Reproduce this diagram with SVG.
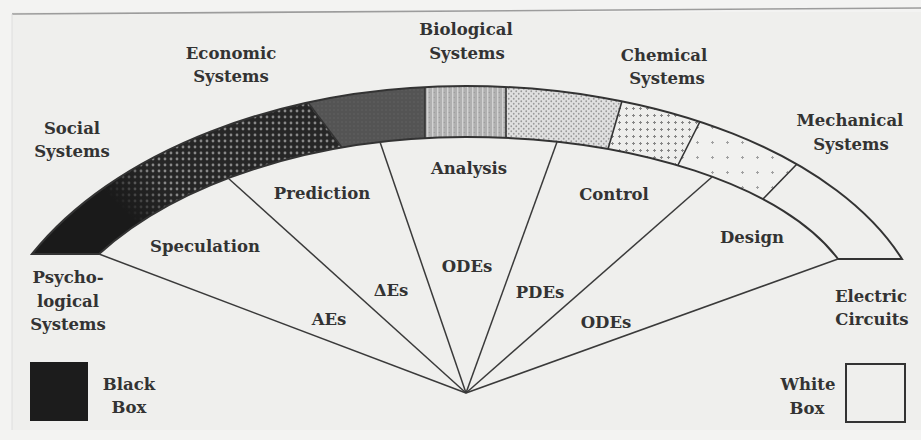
<svg xmlns="http://www.w3.org/2000/svg" width="921" height="440" viewBox="0 0 921 440">
  <defs>
    <style>
      text { font-family: "DejaVu Serif", "Liberation Serif", serif; font-size: 16.5px; font-weight: bold; fill: #333; text-anchor: middle; }
      .edge { stroke: #3a3a3a; stroke-width: 1.5; fill: none; }
      .div { stroke: #333; stroke-width: 1.6; }
      .outline { stroke: #333; stroke-width: 2; fill: none; }
    </style>
    <clipPath id="bandClip">
      <path d="M32,254 A486,305 0 0 1 466,86 A463,260 0 0 1 902,259 L838,259 A393,180 0 0 0 466,137 A436,254 0 0 0 99,254 Z"/>
    </clipPath>
    <pattern id="pDarkDots" width="6" height="6" patternUnits="userSpaceOnUse">
      <rect width="6" height="6" fill="#262626"/>
      <circle cx="3" cy="3" r="1.4" fill="#888"/>
    </pattern>
    <pattern id="pGray" width="4" height="4" patternUnits="userSpaceOnUse">
      <rect width="4" height="4" fill="#545454"/>
      <circle cx="2" cy="2" r="0.8" fill="#626262"/>
    </pattern>
    <pattern id="pVLines" width="5" height="5" patternUnits="userSpaceOnUse">
      <rect width="5" height="5" fill="#b0b0b0"/>
      <rect x="2" width="1.4" height="5" fill="#d2d2d2"/>
      <circle cx="4.2" cy="2.5" r="0.6" fill="#969696"/>
    </pattern>
    <pattern id="pFine" width="5" height="5" patternUnits="userSpaceOnUse">
      <rect width="5" height="5" fill="#e0e0e0"/>
      <circle cx="1.25" cy="1.25" r="0.9" fill="#9a9a9a"/>
      <circle cx="3.75" cy="3.75" r="0.9" fill="#9a9a9a"/>
    </pattern>
    <pattern id="pPlus" width="7" height="7" patternUnits="userSpaceOnUse">
      <rect width="7" height="7" fill="#eeeeec"/>
      <path d="M3.5,2 V5 M2,3.5 H5" stroke="#858585" stroke-width="1"/>
    </pattern>
    <pattern id="pSparse" width="15" height="15" patternUnits="userSpaceOnUse">
      <rect width="15" height="15" fill="#f1f1ef"/>
      <path d="M7.5,6 V9 M6,7.5 H9" stroke="#a0a0a0" stroke-width="1"/>
    </pattern>
    <linearGradient id="gBlack" gradientUnits="userSpaceOnUse" x1="128" y1="214" x2="162" y2="180">
      <stop offset="0" stop-color="#1a1a1a" stop-opacity="1"/>
      <stop offset="1" stop-color="#1a1a1a" stop-opacity="0"/>
    </linearGradient>
  </defs>

  <!-- background / scan frame -->
  <rect width="921" height="440" fill="#f3f3f2"/>
  <rect x="12" y="12" width="909" height="418" fill="#efefed"/>
  <line x1="12" y1="14" x2="921" y2="8" stroke="#9c9c9c" stroke-width="1.6"/>
  <line x1="12" y1="14" x2="12" y2="430" stroke="#dedede" stroke-width="1"/>

  <!-- band of system types -->
  <g id="band">
    <g clip-path="url(#bandClip)">
      <polygon points="0,0 230,0 384,203 384,440 0,440" fill="url(#pDarkDots)"/>
      <rect x="0" y="0" width="300" height="440" fill="url(#gBlack)"/>
      <polygon points="230,0 425,0 425,440 384,440 384,203" fill="url(#pGray)"/>
      <rect x="425" y="0" width="81" height="440" fill="url(#pVLines)"/>
      <polygon points="506,0 651,0 608,149 600,440 506,440" fill="url(#pFine)"/>
      <polygon points="651,0 761,0 700,121.5 678,165 670,440 600,440 608,149" fill="url(#pPlus)"/>
      <polygon points="761,0 956,0 797,164 763,199 740,440 670,440 678,165 700,121.5" fill="url(#pSparse)"/>
    </g>
    <line class="div" x1="308" y1="102.6" x2="342" y2="147.5"/>
    <line class="div" x1="425" y1="87" x2="425" y2="138"/>
    <line class="div" x1="506" y1="87" x2="506" y2="138"/>
    <line class="div" x1="622" y1="101" x2="608" y2="149"/>
    <line class="div" x1="700" y1="121.5" x2="678" y2="165"/>
    <line class="div" x1="797" y1="164" x2="763" y2="199"/>
    <path class="outline" d="M32,254 A486,305 0 0 1 466,86 A463,260 0 0 1 902,259 L838,259 A393,180 0 0 0 466,137 A436,254 0 0 0 99,254 Z"/>
  </g>

  <!-- connectors: fan from the apex -->
  <g id="connectors">
    <line class="edge" x1="466" y1="393" x2="99" y2="254"/>
    <line class="edge" x1="466" y1="393" x2="228" y2="178"/>
    <line class="edge" x1="466" y1="393" x2="380" y2="142"/>
    <line class="edge" x1="466" y1="393" x2="557" y2="142"/>
    <line class="edge" x1="466" y1="393" x2="712" y2="177"/>
    <line class="edge" x1="466" y1="393" x2="838" y2="259"/>
    <text x="329" y="325">AEs</text>
    <text x="391" y="296">ΔEs</text>
    <text x="467" y="272">ODEs</text>
    <text x="540" y="298">PDEs</text>
    <text x="606" y="328">ODEs</text>
  </g>

  <!-- sector nodes -->
  <g id="speculation"><text x="205" y="252">Speculation</text></g>
  <g id="prediction"><text x="322" y="199">Prediction</text></g>
  <g id="analysis"><text x="469" y="174">Analysis</text></g>
  <g id="control"><text x="614" y="200">Control</text></g>
  <g id="design"><text x="752" y="243">Design</text></g>

  <!-- system nodes -->
  <g id="psychological">
    <text x="68" y="283">Psycho-</text>
    <text x="68" y="307">logical</text>
    <text x="68" y="330">Systems</text>
  </g>
  <g id="social">
    <text x="72" y="134">Social</text>
    <text x="72" y="157">Systems</text>
  </g>
  <g id="economic">
    <text x="231" y="59">Economic</text>
    <text x="231" y="82">Systems</text>
  </g>
  <g id="biological">
    <text x="466" y="35">Biological</text>
    <text x="467" y="59">Systems</text>
  </g>
  <g id="chemical">
    <text x="664" y="61">Chemical</text>
    <text x="667" y="84">Systems</text>
  </g>
  <g id="mechanical">
    <text x="850" y="126">Mechanical</text>
    <text x="851" y="150">Systems</text>
  </g>
  <g id="electric">
    <text x="871" y="302">Electric</text>
    <text x="872" y="325">Circuits</text>
  </g>

  <!-- legend -->
  <g id="black-box">
    <rect x="30" y="362" width="58" height="59" fill="#1c1c1c"/>
    <text x="129" y="390">Black</text>
    <text x="129" y="413">Box</text>
  </g>
  <g id="white-box">
    <rect x="846" y="364" width="59" height="58" fill="none" stroke="#333" stroke-width="2"/>
    <text x="808" y="390">White</text>
    <text x="807" y="414">Box</text>
  </g>
</svg>
